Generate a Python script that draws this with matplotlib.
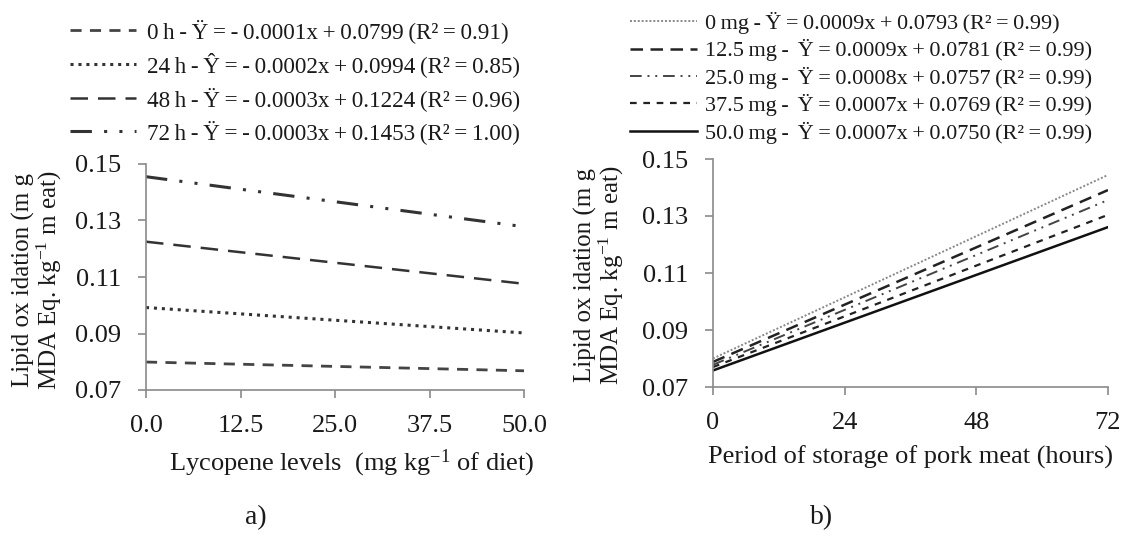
import numpy as np
import matplotlib
matplotlib.use("Agg")
import matplotlib.pyplot as plt

plt.rcParams['font.family'] = ['Liberation Serif', 'DejaVu Serif']
plt.rcParams['mathtext.fontset'] = 'custom'
plt.rcParams['mathtext.rm'] = 'Liberation Serif'
plt.rcParams['mathtext.it'] = 'Liberation Serif:italic'

T = '\u2009'  # thin space, the original legend is set tight

# panel a) - lycopene levels, one line per storage time
lyc_x = [0.0, 50.0]
a_labels = ['0 h - Ÿ = - 0.0001x + 0.0799 (R² = 0.91)',
            '24 h - Ŷ = - 0.0002x + 0.0994 (R² = 0.85)',
            '48 h - Ÿ = - 0.0003x + 0.1224 (R² = 0.96)',
            '72 h - Ÿ = - 0.0003x + 0.1453 (R² = 1.00)']
a_start = [0.0799, 0.0992, 0.1225, 0.1455]
a_end = [0.0768, 0.0902, 0.1076, 0.1278]
a_ticks = [0.0, 12.5, 25.0, 37.5, 50.0]

# panel b) - storage period, one line per lycopene level
hours_x = [0, 72]
b_labels = ['0 mg - Ÿ = 0.0009x + 0.0793 (R² = 0.99)',
            '12.5 mg -  Ÿ = 0.0009x + 0.0781 (R² = 0.99)',
            '25.0 mg -  Ÿ = 0.0008x + 0.0757 (R² = 0.99)',
            '37.5 mg -  Ÿ = 0.0007x + 0.0769 (R² = 0.99)',
            '50.0 mg -  Ÿ = 0.0007x + 0.0750 (R² = 0.99)']
b_start = [0.0800, 0.0788, 0.0778, 0.0770, 0.0758]
b_end = [0.1444, 0.1391, 0.1356, 0.1304, 0.1261]
b_ticks = [0, 24, 48, 72]

y_ticks = [0.07, 0.09, 0.11, 0.13, 0.15]
ylab = 'Lipid ox idation (m g\nMDA Eq. kg$^{-1}$ m eat)'

W, H = 1122, 536
fig = plt.figure(figsize=(W / 100, H / 100), dpi=100)
INK = '#1a1a1a'

def px_axes(x0, x1, ytop, ybot):
    return fig.add_axes([x0 / W, (H - ybot) / H, (x1 - x0) / W, (ybot - ytop) / H])

def style(ax):
    for s in ['top', 'right']:
        ax.spines[s].set_visible(False)
    for s in ['left', 'bottom']:
        ax.spines[s].set_color('#8a8a8a')
        ax.spines[s].set_linewidth(1.2)
    ax.tick_params(direction='out', length=6, width=1.2, color='#8a8a8a',
                   labelsize=19, labelcolor=INK)
    ax.tick_params(axis='x', pad=12)
    ax.tick_params(axis='y', pad=12)
    ax.set_ylim(0.07, 0.15)
    ax.set_yticks(y_ticks)
    ax.set_yticklabels(['%.2f' % v for v in y_ticks])

a_styles = [dict(ls=(0, (4, 3)), color='#444444', lw=2.0),
            dict(ls=(0, (1, 1.6)), color='#333333', lw=2.2),
            dict(ls=(0, (7, 4)), color='#333333', lw=1.8),
            dict(ls=(0, (7, 4, 1, 4, 1, 4)), color='#333333', lw=2.2)]
b_styles = [dict(ls=(0, (1, 1)), color='#888888', lw=1.4),
            dict(ls=(0, (5, 3)), color='#222222', lw=1.8),
            dict(ls=(0, (6, 3, 1, 3, 1, 3)), color='#444444', lw=1.4),
            dict(ls=(0, (3, 3)), color='#222222', lw=1.6),
            dict(ls='-', color='#111111', lw=1.8)]

ax1 = px_axes(146, 524, 164, 390)
handles = []
for s, e, st in zip(a_start, a_end, a_styles):
    h, = ax1.plot(lyc_x, [s, e], **st)
    handles.append(h)
style(ax1)
ax1.set_xlim(0, 50)
ax1.set_xticks(a_ticks)
ax1.set_xticklabels(['%.1f' % v for v in a_ticks])
fig.legend(handles, [l.replace(' ', T) for l in a_labels], loc='upper left',
           bbox_to_anchor=(61 / W, 1 - 10 / H),
           frameon=False, fontsize=16.7, handlelength=2.83, handletextpad=0.47,
           labelspacing=0.4, borderaxespad=0, labelcolor=INK)
fig.text(352 / W, 1 - 463 / H, 'Lycopene levels  (mg kg$^{-1}$ of diet)',
         ha='center', va='center', fontsize=19, color=INK)
fig.text(38 / W, 1 - 280 / H, ylab, rotation=90, ha='center', va='center',
         fontsize=18, color=INK, linespacing=1.0)
fig.text(256 / W, 1 - 518 / H, 'a)', ha='center', va='center', fontsize=20, color=INK)

ax2 = px_axes(713, 1108, 159, 387)
handles = []
for s, e, st in zip(b_start, b_end, b_styles):
    h, = ax2.plot(hours_x, [s, e], **st)
    handles.append(h)
style(ax2)
ax2.set_xlim(0, 72)
ax2.set_xticks(b_ticks)
fig.legend(handles, [l.replace(' ', T) for l in b_labels], loc='upper left',
           bbox_to_anchor=(621 / W, 1 - 3 / H),
           frameon=False, fontsize=16, handlelength=3.0, handletextpad=0.37,
           labelspacing=0.24, borderaxespad=0, labelcolor=INK)
fig.text(911 / W, 1 - 457 / H, 'Period of storage of pork meat (hours)',
         ha='center', va='center', fontsize=19, color=INK)
fig.text(600 / W, 1 - 275 / H, ylab, rotation=90, ha='center', va='center',
         fontsize=18, color=INK, linespacing=1.0)
fig.text(822 / W, 1 - 518 / H, 'b)', ha='center', va='center', fontsize=20, color=INK)

fig.savefig('out.png', dpi=100, facecolor='white')
